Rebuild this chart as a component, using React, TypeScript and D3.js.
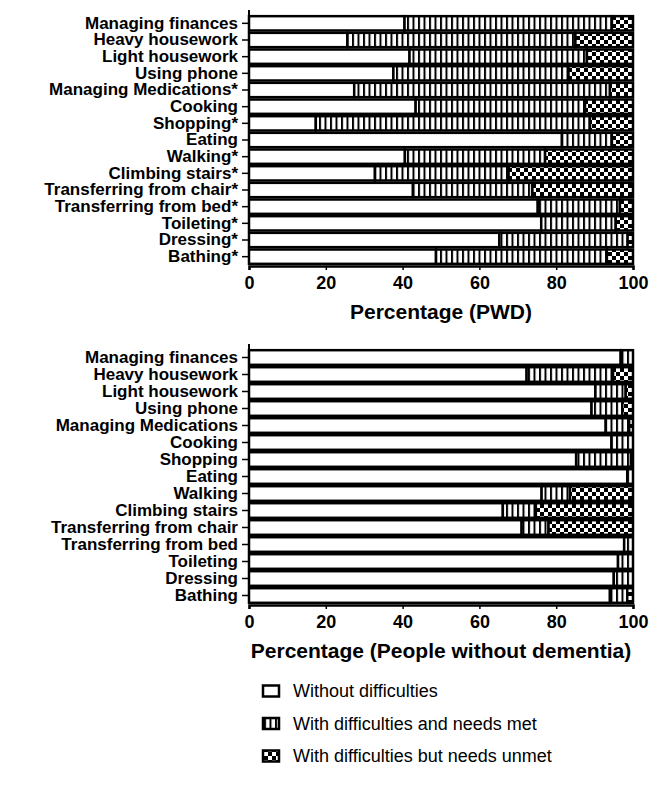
import React, { useRef, useEffect } from 'react';
import * as d3 from 'd3';

// activities, top to bottom
const activities = [
  'Managing finances', 'Heavy housework', 'Light housework', 'Using phone',
  'Managing Medications', 'Cooking', 'Shopping', 'Eating', 'Walking',
  'Climbing stairs', 'Transferring from chair', 'Transferring from bed',
  'Toileting', 'Dressing', 'Bathing',
];
// activities marked with * in the PWD panel
const starred = [
  'Managing Medications', 'Shopping', 'Walking', 'Climbing stairs',
  'Transferring from chair', 'Transferring from bed', 'Toileting', 'Dressing', 'Bathing',
];

// people with dementia
const pwdNone = [40.5, 25.6, 41.8, 37.6, 27.4, 43.4, 17.4, 81.5, 40.6, 32.8, 42.7, 75.2, 76.1, 65.2, 48.7];
const pwdMet = [54, 59.4, 46.2, 45.6, 66.6, 44.1, 71.4, 13, 36.5, 34.8, 31.1, 21.4, 19.4, 33.4, 44.5];
const pwdUnmet = [5.5, 15, 12, 16.8, 6, 12.5, 11.2, 5.5, 22.9, 32.4, 26.2, 3.4, 4.5, 1.4, 6.8];

// people without dementia
const ctlNone = [96.8, 72.3, 90.2, 89.2, 92.9, 94.4, 85.2, 98.5, 76.2, 66.1, 71, 97.7, 96.1, 95, 94];
const ctlMet = [3.2, 22.5, 7.9, 8, 6.1, 5.6, 14.3, 1.5, 7.4, 8.6, 7, 2.3, 3.9, 5, 4.5];
const ctlUnmet = [0, 5.2, 1.9, 2.8, 1, 0, 0.5, 0, 16.4, 25.3, 22, 0, 0, 0, 1.5];

const xTicks = [0, 20, 40, 60, 80, 100];
const legendItems = ['Without difficulties', 'With difficulties and needs met', 'With difficulties but needs unmet'];
const fills = ['#fff', 'url(#met)', 'url(#unmet)'];

const FONT = "Arial, 'Liberation Sans', sans-serif";

const App = () => {
  const ref = useRef<SVGSVGElement>(null);

  useEffect(() => {
    const svg = d3.select(ref.current);
    svg.selectAll('*').remove();

    const defs = svg.append('defs');
    const met = defs.append('pattern').attr('id', 'met')
      .attr('patternUnits', 'userSpaceOnUse').attr('width', 5.5).attr('height', 10);
    met.append('rect').attr('width', 5.5).attr('height', 10).attr('fill', '#fff');
    met.append('rect').attr('width', 2).attr('height', 10).attr('fill', '#000');

    const unmet = defs.append('pattern').attr('id', 'unmet')
      .attr('patternUnits', 'userSpaceOnUse').attr('width', 8).attr('height', 8);
    unmet.append('rect').attr('width', 8).attr('height', 8).attr('fill', '#000');
    unmet.append('rect').attr('x', 0).attr('y', 0).attr('width', 4).attr('height', 4).attr('fill', '#fff');
    unmet.append('rect').attr('x', 4).attr('y', 4).attr('width', 4).attr('height', 4).attr('fill', '#fff');

    const x = d3.scaleLinear().domain([0, 100]).range([249, 633]);

    const drawPanel = (top: number, bottom: number, none: number[], metV: number[], unmetV: number[],
                       withStars: boolean, title: string) => {
      const labels = activities.map(a => (withStars && starred.includes(a) ? a + '*' : a));
      const y = d3.scaleBand().domain(labels).range([top, bottom]).paddingInner(0.14).paddingOuter(0.07);
      const g = svg.append('g');

      labels.forEach((lab, i) => {
        const vals = [none[i], metV[i], unmetV[i]];
        let start = 0;
        vals.forEach((v, k) => {
          if (v > 0) {
            g.append('rect')
              .attr('x', x(start))
              .attr('y', y(lab)!)
              .attr('width', x(start + v) - x(start))
              .attr('height', y.bandwidth())
              .attr('fill', fills[k])
              .attr('stroke', '#000')
              .attr('stroke-width', 2.5);
          }
          start += v;
        });
      });

      // y axis
      const ya = g.append('g').attr('transform', `translate(${x(0)},0)`)
        .call(d3.axisLeft(y).tickSize(7).tickPadding(4));
      ya.select('.domain').attr('stroke-width', 2).attr('d', `M-0,${top - 5}V${bottom}`);
      ya.selectAll('.tick line').attr('stroke-width', 1.5);
      ya.selectAll('.tick text')
        .attr('font-family', FONT).attr('font-size', 17).attr('font-weight', 'bold').attr('fill', '#000');

      // x axis
      const xa = g.append('g').attr('transform', `translate(0,${bottom + 1})`)
        .call(d3.axisBottom(x).tickValues(xTicks).tickSize(4).tickPadding(6));
      xa.select('.domain').attr('stroke-width', 2.5);
      xa.selectAll('.tick line').attr('stroke-width', 1.5);
      xa.selectAll('.tick text')
        .attr('font-family', FONT).attr('font-size', 18).attr('font-weight', 'bold').attr('fill', '#000');

      g.append('text')
        .attr('x', (x(0) + x(100)) / 2)
        .attr('y', bottom + 54)
        .attr('text-anchor', 'middle')
        .attr('font-family', FONT).attr('font-size', 21).attr('font-weight', 'bold')
        .text(title);
    };

    drawPanel(15, 265, pwdNone, pwdMet, pwdUnmet, true, 'Percentage (PWD)');
    drawPanel(349, 604, ctlNone, ctlMet, ctlUnmet, false, 'Percentage (People without dementia)');

    // legend
    const lg = svg.append('g');
    legendItems.forEach((txt, i) => {
      const cy = 691 + i * 32.5;
      lg.append('rect')
        .attr('x', 263).attr('y', cy - 5.5).attr('width', 16).attr('height', 11)
        .attr('fill', fills[i]).attr('stroke', '#000').attr('stroke-width', 2.5);
      lg.append('text')
        .attr('x', 293).attr('y', cy).attr('dy', '0.35em')
        .attr('font-family', FONT).attr('font-size', 18)
        .text(txt);
    });
  }, []);

  return (
    <svg ref={ref} width={660} height={787}
      style={{ position: 'absolute', left: 0, top: 0, background: '#fff' }} />
  );
};

export default App;
